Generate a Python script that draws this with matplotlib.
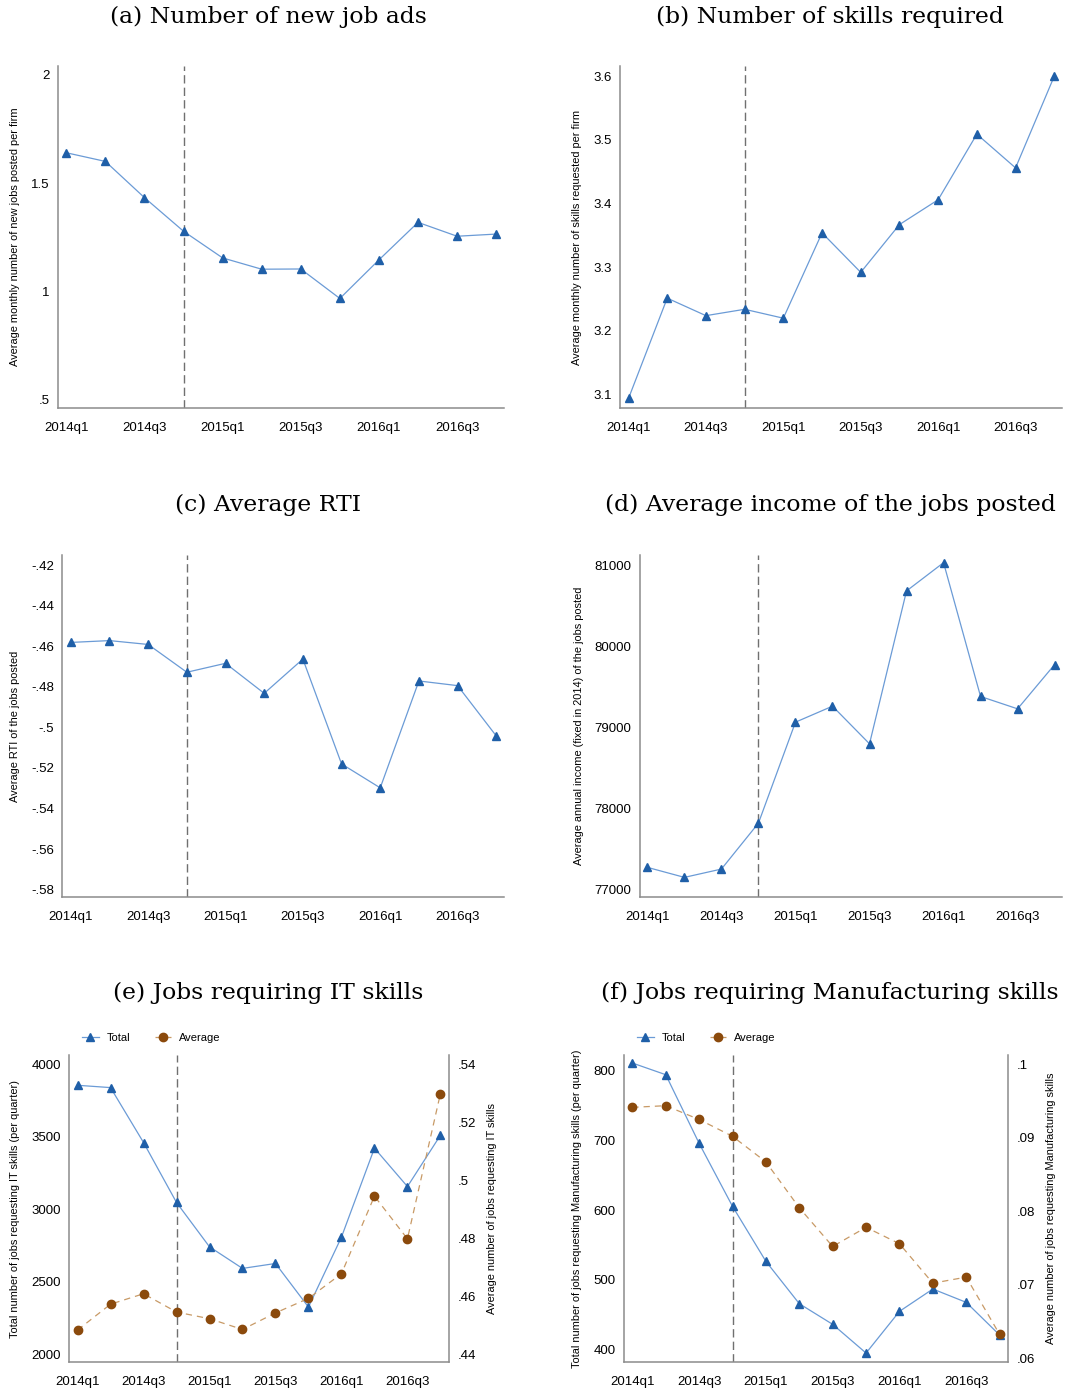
import matplotlib
matplotlib.use("Agg")
import matplotlib.pyplot as plt
import numpy as np

quarters = ['2014q1', '2014q2', '2014q3', '2014q4', '2015q1', '2015q2',
            '2015q3', '2015q4', '2016q1', '2016q2', '2016q3', '2016q4']
shown_quarters = ['2014q1', '2014q3', '2015q1', '2015q3', '2016q1', '2016q3']
break_quarter = '2014q4'

new_ads = [1.64, 1.60, 1.433, 1.278, 1.155, 1.103, 1.104, 0.968, 1.146, 1.319, 1.255, 1.265]
n_skills = [3.094, 3.2515, 3.224, 3.234, 3.220, 3.354, 3.292, 3.367, 3.406, 3.509, 3.456, 3.600]
rti = [-0.4581, -0.4572, -0.4591, -0.4728, -0.4684, -0.4832, -0.4663, -0.518,
       -0.5298, -0.4771, -0.4794, -0.5042]
income = [77268, 77144, 77247, 77816, 79066, 79264, 78798, 80691, 81041, 79384, 79231, 79779]
it_total = [3855, 3839, 3460, 3046, 2740, 2591, 2625, 2324, 2807, 3421, 3156, 3510]
it_avg = [.4485, .4574, .4610, .4547, .4524, .4487, .4544, .4594, .4679, .4946, .4799, .5299]
man_total = [810.5, 793.8, 695.5, 605.3, 526.5, 465.9, 436.3, 395.2, 454.9, 486.9, 467.8, 421.0]
man_avg = [.09417, .09440, .09252, .09023, .08674, .08050, .07523, .07784, .07560,
           .07023, .07106, .06326]

a_ticks = [0.5, 1, 1.5, 2]
a_labels = ['.5', '1', '1.5', '2']
b_ticks = [3.1, 3.2, 3.3, 3.4, 3.5, 3.6]
b_labels = ['3.1', '3.2', '3.3', '3.4', '3.5', '3.6']
c_ticks = [-.42, -.44, -.46, -.48, -.50, -.52, -.54, -.56, -.58]
c_labels = ['-.42', '-.44', '-.46', '-.48', '-.5', '-.52', '-.54', '-.56', '-.58']
d_ticks = [77000, 78000, 79000, 80000, 81000]
d_labels = ['77000', '78000', '79000', '80000', '81000']
e_ticks = [2000, 2500, 3000, 3500, 4000]
e_labels = ['2000', '2500', '3000', '3500', '4000']
e2_ticks = [.44, .46, .48, .50, .52, .54]
e2_labels = ['.44', '.46', '.48', '.5', '.52', '.54']
f_ticks = [400, 500, 600, 700, 800]
f_labels = ['400', '500', '600', '700', '800']
f2_ticks = [.06, .07, .08, .09, .10]
f2_labels = ['.06', '.07', '.08', '.09', '.1']

plt.rcParams['font.family'] = ['Liberation Sans', 'DejaVu Sans']

W, H = 1067, 1388
fig = plt.figure(figsize=(W / 100, H / 100), dpi=100)

BLUE = '#1f5fa8'
BLUE_LINE = '#6b9bd6'
BROWN = '#8b4a0c'
BROWN_LINE = '#c89a66'
SPINE = '#8c8c8c'

x = np.arange(len(quarters))
xt = [quarters.index(q) for q in shown_quarters]
xb = quarters.index(break_quarter)


def make_ax(l, r, t, b):
    return fig.add_axes([l / W, 1 - b / H, (r - l) / W, (b - t) / H])


def style(ax, right=False):
    for s in ['top', 'right', 'left', 'bottom']:
        ax.spines[s].set_visible(False)
    for s in ['left', 'bottom'] + (['right'] if right else []):
        ax.spines[s].set_visible(True)
        ax.spines[s].set_color(SPINE)
        ax.spines[s].set_linewidth(1.1)
    ax.tick_params(length=0, labelsize=9.5, pad=6)
    ax.tick_params(axis='x', pad=10)
    ax.set_xticks(xt)
    ax.set_xticklabels(shown_quarters)
    ax.axvline(xb, color='#707070', ls=(0, (6, 3)), lw=1.0, zorder=1)


def total_line(ax, vals, **kw):
    return ax.plot(x, vals, color=BLUE_LINE, lw=0.9, marker='^', ms=6,
                   mfc=BLUE, mec=BLUE, zorder=3, **kw)


def title(txt, cx, cy):
    fig.text(cx / W, 1 - cy / H, txt, ha='center', va='center',
             family='DejaVu Serif', fontsize=16.9)


YL = 7.9

# (a)
ax = make_ax(57.7, 504, 66, 408)
style(ax)
total_line(ax, new_ads)
ax.set_xlim(-0.22, 11.2)
ax.set_ylim(0.463, 2.04)
ax.set_yticks(a_ticks)
ax.set_yticklabels(a_labels)
ax.set_ylabel('Average monthly number of new jobs posted per firm', fontsize=YL, labelpad=8)
title('(a) Number of new job ads', 268, 17)

# (b)
ax = make_ax(620, 1062, 66, 408)
style(ax)
total_line(ax, n_skills)
ax.set_xlim(-0.22, 11.2)
ax.set_ylim(3.079, 3.616)
ax.set_yticks(b_ticks)
ax.set_yticklabels(b_labels)
ax.set_ylabel('Average monthly number of skills requested per firm', fontsize=YL, labelpad=8)
title('(b) Number of skills required', 830, 17)

# (c)
ax = make_ax(62.3, 504, 555, 897)
style(ax)
total_line(ax, rti)
ax.set_xlim(-0.22, 11.2)
ax.set_ylim(-0.5836, -0.415)
ax.set_yticks(c_ticks)
ax.set_yticklabels(c_labels)
ax.set_ylabel('Average RTI of the jobs posted', fontsize=YL, labelpad=8)
title('(c) Average RTI', 268, 505)

# (d)
ax = make_ax(640, 1062, 555, 897)
style(ax)
total_line(ax, income)
ax.set_xlim(-0.2, 11.2)
ax.set_ylim(76901, 81136)
ax.set_yticks(d_ticks)
ax.set_yticklabels(d_labels)
ax.set_ylabel('Average annual income (fixed in 2014) of the jobs posted', fontsize=YL, labelpad=8)
title('(d) Average income of the jobs posted', 830, 505)


def dual(l, r, tot, avg, ylim, y2lim, yt, yl, y2t, y2l, lab, lab2, ttl, cx, legx):
    ax = make_ax(l, r, 1055, 1362)
    style(ax, right=True)
    h1, = total_line(ax, tot, label='Total')
    ax.set_xlim(-0.25, 11.26)
    ax.set_ylim(*ylim)
    ax.set_yticks(yt)
    ax.set_yticklabels(yl)
    ax.set_ylabel(lab, fontsize=YL, labelpad=8)
    ax2 = ax.twinx()
    for s in ax2.spines.values():
        s.set_visible(False)
    h2, = ax2.plot(x, avg, color=BROWN_LINE, lw=0.9, ls=(0, (5, 4)), marker='o', ms=6,
                   mfc=BROWN, mec=BROWN, label='Average')
    ax2.set_ylim(*y2lim)
    ax2.set_yticks(y2t)
    ax2.set_yticklabels(y2l)
    ax2.tick_params(length=0, labelsize=9.5, pad=6)
    ax2.set_ylabel(lab2, fontsize=YL, labelpad=8)
    fig.legend([h1, h2], ['Total', 'Average'], loc='center left',
               bbox_to_anchor=(legx / W, 1 - 1038 / H), ncol=2, frameon=False,
               fontsize=8, handlelength=1.5, columnspacing=2.2, handletextpad=0.7)
    title(ttl, cx, 993)


dual(69.3, 449, it_total, it_avg, (1945, 4064), (.4375, .5432),
     e_ticks, e_labels, e2_ticks, e2_labels,
     'Total number of jobs requesting IT skills (per quarter)',
     'Average number of jobs requesting IT skills',
     '(e) Jobs requiring IT skills', 268, 72)

dual(624, 1008.3, man_total, man_avg, (382.4, 822), (.0595, .1013),
     f_ticks, f_labels, f2_ticks, f2_labels,
     'Total number of jobs requesting Manufacturing skills (per quarter)',
     'Average number of jobs requesting Manufacturing skills',
     '(f) Jobs requiring Manufacturing skills', 830, 627)

fig.savefig('out.png', dpi=100)
